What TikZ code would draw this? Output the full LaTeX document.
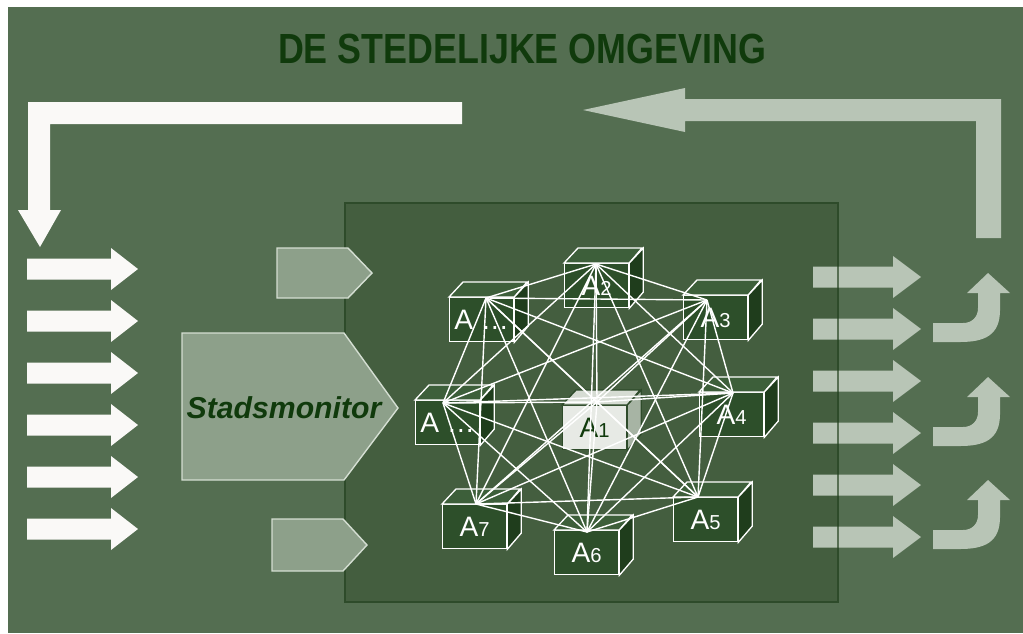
\documentclass[tikz,border=0pt]{standalone}
\usepackage{fontspec}
\setmainfont{Liberation Sans}
\usepackage{tikz}

\definecolor{bggreen}{HTML}{546E51}
\definecolor{boxgreen}{HTML}{445E3F}
\definecolor{boxline}{HTML}{2E4B2A}
\definecolor{arrowlight}{HTML}{B8C5B6}
\definecolor{arrowwhite}{HTML}{FAF9F7}
\definecolor{pentfill}{HTML}{8DA08A}
\definecolor{pentline}{HTML}{D4DED2}
\definecolor{titlegreen}{HTML}{103A0C}
\definecolor{cubefront}{HTML}{2D4F2A}
\definecolor{cubetop}{HTML}{3D5F3A}
\definecolor{cubeside}{HTML}{1F3D1C}
\definecolor{corefront}{HTML}{E7EAE5}
\definecolor{coretop}{HTML}{D6DCD3}
\definecolor{coreside}{HTML}{A7B4A4}

\tikzset{
  agent/.style={draw=white, line width=0.75pt, fill=cubefront, text=white,
    minimum width=1.28cm, minimum height=0.88cm, inner sep=0pt},
  agenttop/.style={draw=white, line width=0.75pt, fill=cubetop},
  agentside/.style={draw=white, line width=0.75pt, fill=cubeside},
  core/.style={draw=boxline, line width=0.75pt, fill=corefront, text=titlegreen,
    minimum width=1.28cm, minimum height=0.88cm, inner sep=0pt},
  coretop/.style={draw=boxline, line width=0.75pt, fill=coretop},
  coreside/.style={draw=boxline, line width=0.75pt, fill=coreside},
  link/.style={draw=white, line width=0.8pt},
  pent/.style={fill=pentfill, draw=pentline, line width=0.8pt},
}

\newcommand{\agentlabel}[1]{{\fontsize{16}{16}\selectfont A}{\fontsize{11.5}{12}\selectfont #1}}
\newcommand{\agentcube}[5]{%
  \node[#1, anchor=north west] (#2) at (#3,#4) {#5};
  \filldraw[#1top] (#2.north west) -- ++(14,-15) -- ++(64,0) -- (#2.north east) -- cycle;
  \filldraw[#1side] (#2.north east) -- ++(14,-15) -- ++(0,44) -- (#2.south east) -- cycle;
}

\begin{document}
\begin{tikzpicture}[x=0.02cm,y=-0.02cm]
  \useasboundingbox (0,0) rectangle (1023,633);
  \fill[white] (0,0) rectangle (1023,633);
  \fill[bggreen] (8,7) rectangle (1023,633);

  \filldraw[fill=boxgreen, draw=boxline, line width=1.2pt] (345,203) rectangle (838,602);

  \node[font=\fontsize{24}{26}\selectfont\bfseries, text=titlegreen, xscale=0.85] (title) at (522,49) {DE STEDELIJKE OMGEVING};

  % feedback arrows
  \fill[arrowwhite] (462,102) -- (28,102) -- (28,210) -- (18,210) -- (40,247) -- (61,210)
    -- (50,210) -- (50,124) -- (462,124) -- cycle;
  \fill[arrowlight] (976,238) -- (976,121) -- (685,121) -- (685,132) -- (583,110) -- (685,88)
    -- (685,99) -- (1001,99) -- (1001,238) -- cycle;

  \foreach \y in {269,321,373,425,477,529}
    \fill[arrowwhite] (27,\y-10.5) -- (111,\y-10.5) -- (111,\y-21) -- (138,\y)
      -- (111,\y+21) -- (111,\y+10.5) -- (27,\y+10.5) -- cycle;

  % monitor
  \filldraw[pent] (277,248) -- (348,248) -- (372,273) -- (348,298) -- (277,298) -- cycle;
  \filldraw[pent] (182,333) -- (344,333) -- (398,408) -- (344,480) -- (182,480) -- cycle;
  \filldraw[pent] (272,519) -- (343,519) -- (367,545) -- (343,571) -- (272,571) -- cycle;
  \node[font=\fontsize{17.2}{19}\selectfont\bfseries\itshape, text=titlegreen] (monitor) at (284,408) {Stadsmonitor};

  % agents
  \agentcube{agent}{a2}{564}{263}{\agentlabel{2}}
  \agentcube{agent}{a9}{449}{297}{{\fontsize{16}{16}\selectfont A \ldots}}
  \agentcube{agent}{a3}{683}{295}{\agentlabel{3}}
  \agentcube{agent}{a8}{415}{400}{{\fontsize{16}{16}\selectfont A \ldots}}
  \agentcube{core}{a1}{562}{405}{\agentlabel{1}}
  \agentcube{agent}{a4}{699}{392}{\agentlabel{4}}
  \agentcube{agent}{a7}{442}{504}{\agentlabel{7}}
  \agentcube{agent}{a6}{554}{530}{\agentlabel{6}}
  \agentcube{agent}{a5}{673}{497}{\agentlabel{5}}

  \coordinate (h1) at (597,402);
  \coordinate (h2) at (596,264);
  \coordinate (h3) at (707,300);
  \coordinate (h4) at (733,393);
  \coordinate (h5) at (698,497);
  \coordinate (h6) at (587,532);
  \coordinate (h7) at (476,504);
  \coordinate (h8) at (443,403);
  \coordinate (h9) at (486,298);
  \foreach \i in {1,...,8}{
    \pgfmathtruncatemacro\k{\i+1}
    \foreach \j in {\k,...,9}
      \draw[link] (h\i) -- (h\j);
  }

  % output
  \foreach \y in {277,329,381,433,485,537}
    \fill[arrowlight] (813,\y-10.5) -- (893,\y-10.5) -- (893,\y-21) -- (921,\y)
      -- (893,\y+21) -- (893,\y+10.5) -- (813,\y+10.5) -- cycle;
  \foreach \d in {0,104,207}
    \fill[arrowlight] (933,323+\d) -- (963,323+\d) .. controls (972,323+\d) and (978,317+\d) .. (978,308+\d)
      -- (978,293+\d) -- (967,293+\d) -- (988,273+\d) -- (1010,293+\d) -- (1000,293+\d)
      -- (1000,310+\d) .. controls (1000,335+\d) and (985,342+\d) .. (960,342+\d) -- (933,342+\d) -- cycle;
  \draw[boxline, line width=1.2pt, opacity=0.7] (838,203) -- (838,602);
\end{tikzpicture}
\end{document}
